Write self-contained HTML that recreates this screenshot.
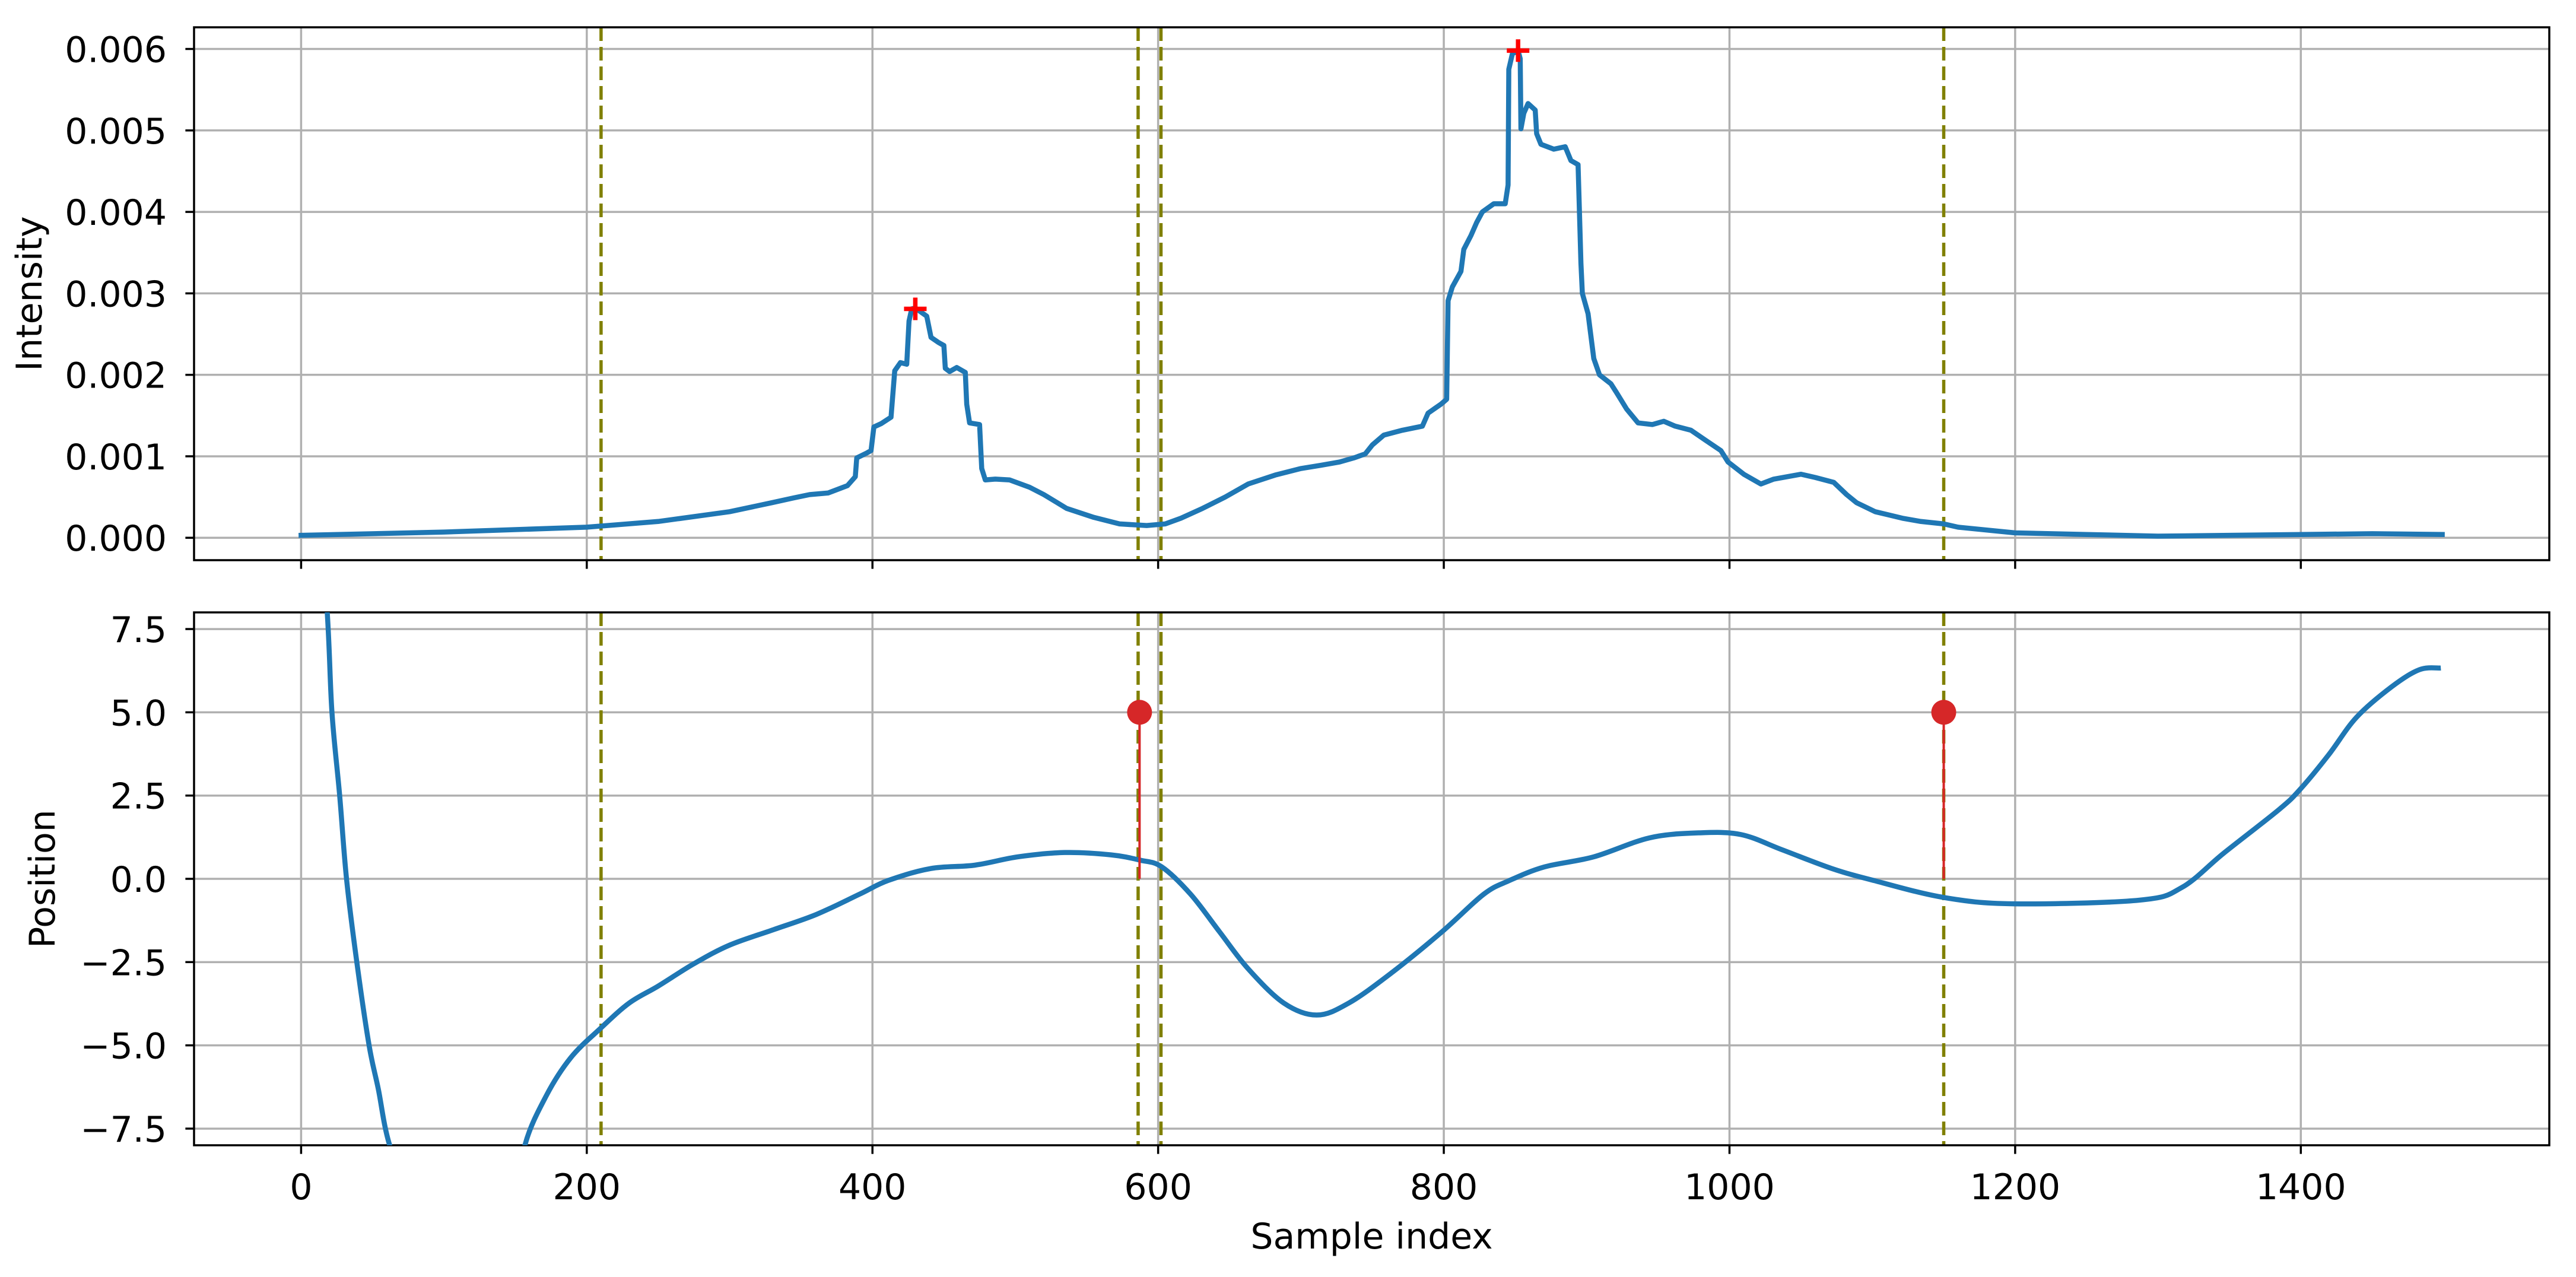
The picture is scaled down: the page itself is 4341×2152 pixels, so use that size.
<!DOCTYPE html>
<html><head><meta charset="utf-8"><style>
html,body{margin:0;padding:0;background:#fff;}
svg{display:block;}
text{font-family:"DejaVu Sans","Liberation Sans",sans-serif;fill:#000;}
</style></head><body>
<svg id="chart" width="4341" height="2152" viewBox="0 0 4341 2152" xmlns="http://www.w3.org/2000/svg">
<rect width="4341" height="2152" fill="#fff"/>
<defs>
<clipPath id="clipTop"><rect x="327" y="46" width="3969" height="898"/></clipPath>
<clipPath id="clipBot"><rect x="327" y="1032" width="3969" height="898"/></clipPath>
</defs>
<g id="top"></g>
<g id="bot"></g>
</svg>
<script>
// ---- data ----
const xTicks = [0, 200, 400, 600, 800, 1000, 1200, 1400];
const topYTicks = [0, 0.001, 0.002, 0.003, 0.004, 0.005, 0.006];
const topYTickLabels = ["0.000","0.001","0.002","0.003","0.004","0.005","0.006"];
const botYTicks = [-7.5, -5, -2.5, 0, 2.5, 5, 7.5];
const botYTickLabels = ["\u22127.5","\u22125.0","\u22122.5","0.0","2.5","5.0","7.5"];
const intensityX = [0,100,200,250,300,329.5,345,356,369,382.5,388,389,396,399,401,406,413,415.6,419.6,424,425.6,427.5,430,434,438,441,446,450,451,454,459,465,466,468,475,476.5,479,486,496,510,520,536,555,573,592,605,616,631,647,663,682,700,714,727,737,745,750,758,771,785,789,798,802,803,806,812,814,819,823,827,835,843,845,845.5,848,852,853.5,854,856,859,864,865,868,877,885,889,894,896,897,901,905,909,917,921,928,936,946,954,962,973,983,994,999,1010,1022,1031,1050,1060,1073,1082,1089,1102,1121,1134,1150,1160,1200,1250,1300,1350,1400,1450,1499];
const intensityY = [0.00003,0.00007,0.00013,0.0002,0.00032,0.00043,0.00049,0.00053,0.00055,0.00064,0.00075,0.00098,0.00104,0.00107,0.00136,0.0014,0.00148,0.00205,0.00215,0.00213,0.00266,0.00281,0.00282,0.00277,0.00272,0.00246,0.0024,0.00236,0.00208,0.00204,0.00209,0.00203,0.00164,0.00141,0.00139,0.00085,0.00071,0.00072,0.00071,0.00062,0.00053,0.00036,0.00025,0.00017,0.00015,0.00017,0.00024,0.00036,0.0005,0.00066,0.00077,0.00085,0.00089,0.00093,0.00098,0.00103,0.00114,0.00126,0.00132,0.00137,0.00153,0.00164,0.0017,0.00291,0.00308,0.00327,0.00354,0.00371,0.00387,0.004,0.0041,0.0041,0.00433,0.00575,0.00594,0.00598,0.00588,0.00502,0.00521,0.00533,0.00525,0.00496,0.00483,0.00477,0.0048,0.00463,0.00458,0.00337,0.003,0.00275,0.0022,0.002,0.00189,0.00178,0.00158,0.00141,0.00139,0.00143,0.00137,0.00132,0.0012,0.00107,0.00093,0.00078,0.00066,0.00072,0.00078,0.00074,0.00068,0.00053,0.00043,0.00032,0.00024,0.0002,0.00017,0.00013,0.00006,0.00004,0.00002,0.00003,0.00004,0.00005,0.00004];
const peakX = [430, 852];
const peakY = [0.00281, 0.00598];
const positionX = [0,10,18.3,21.6,27,31.8,39,47.6,54,62,80,120,150,156.7,171.8,189,209.6,229.7,250,275,300,330.5,360.7,391,411,441,471.6,501.8,534.5,567,587.4,602.5,622.7,642.8,663,688,711,733.5,763.8,799,828,846,870.6,905,944,978.4,1008,1037,1071.6,1101,1150,1199,1287,1316.7,1346,1385,1400,1419.6,1439,1463.7,1483,1498];
const positionY = [20,13,8,5,2.5,0,-2.5,-5,-6.3,-8,-10,-12,-10,-8,-6.5,-5.36,-4.49,-3.73,-3.22,-2.55,-1.99,-1.53,-1.07,-0.46,-0.05,0.31,0.41,0.66,0.79,0.72,0.56,0.36,-0.46,-1.58,-2.7,-3.73,-4.09,-3.73,-2.81,-1.58,-0.46,-0.05,0.36,0.66,1.23,1.38,1.33,0.87,0.31,-0.05,-0.56,-0.75,-0.64,-0.26,0.77,2.09,2.71,3.73,4.85,5.77,6.28,6.33];
const vLines = [210, 586, 602, 1150];
const stemX = [587, 1150];
const stemY = [5, 5];

// ---- axes ----
const L=327, R=4296, XMIN=-74.95, XMAX=1573.95;
const X = u => L + (u - XMIN) / (XMAX - XMIN) * (R - L);
const TT=46, TB=944, TYMIN=-0.000275, TYMAX=0.006266;
const YT = v => TB - (v - TYMIN) / (TYMAX - TYMIN) * (TB - TT);
const BT=1032, BB=1930, BYMIN=-8, BYMAX=8;
const YB = v => BB - (v - BYMIN) / (BYMAX - BYMIN) * (BB - BT);
const NS="http://www.w3.org/2000/svg";
function mk(parent, tag, attrs, txt){
  const e=document.createElementNS(NS,tag);
  for(const k in attrs) e.setAttribute(k, attrs[k]);
  if(txt!==undefined) e.textContent=txt;
  parent.appendChild(e); return e;
}
function smoothPath(pts){
  let d=`M${pts[0][0]},${pts[0][1]}`;
  for(let i=0;i<pts.length-1;i++){
    const p0=pts[Math.max(0,i-1)], p1=pts[i], p2=pts[i+1], p3=pts[Math.min(pts.length-1,i+2)];
    const c1=[p1[0]+(p2[0]-p0[0])/6, p1[1]+(p2[1]-p0[1])/6];
    const c2=[p2[0]-(p3[0]-p1[0])/6, p2[1]-(p3[1]-p1[1])/6];
    d+=` C${c1[0]},${c1[1]} ${c2[0]},${c2[1]} ${p2[0]},${p2[1]}`;
  }
  return d;
}
function panel(g, top, bot, Y, yTicks, yLabels, ylabel, ylabelX, showX){
  xTicks.forEach(t=>{
    const l=mk(g,'line',{x1:X(t),x2:X(t),y1:top,y2:bot,stroke:'#b0b0b0','stroke-width':3.5});
    
    
  });
  yTicks.forEach(t=>{
    const l=mk(g,'line',{x1:L,x2:R,y1:Y(t),y2:Y(t),stroke:'#b0b0b0','stroke-width':3.5});
    
    
  });
  vLines.forEach(v=>{
    const l=mk(g,'line',{x1:X(v),x2:X(v),y1:top,y2:bot,stroke:'#808000','stroke-width':5.5,'stroke-dasharray':'23 10'});
    
    
  });
  const sp=mk(g,'rect',{x:L,y:top,width:R-L,height:bot-top,fill:'none',stroke:'#000','stroke-width':3.5});
  
  
  xTicks.forEach(t=>{
    const tk=mk(g,'line',{x1:X(t),x2:X(t),y1:bot,y2:bot+14.6,stroke:'#000','stroke-width':3.5});
    
    
    if(showX){
      const tl=mk(g,'text',{x:X(t),y:2021,'font-size':60,'text-anchor':'middle'},String(t));
      
      
    }
  });
  yTicks.forEach((t,i)=>{
    const tk=mk(g,'line',{x1:L-14.6,x2:L,y1:Y(t),y2:Y(t),stroke:'#000','stroke-width':3.5});
    
    
    const tl=mk(g,'text',{x:281,y:Y(t)+22,'font-size':60,'text-anchor':'end'},yLabels[i]);
    
    
  });
  const cy=(top+bot)/2;
  const yl=mk(g,'text',{x:ylabelX,y:cy,'font-size':60,'text-anchor':'middle',transform:`rotate(-90 ${ylabelX} ${cy})`},ylabel);
  
  
}
const gt=document.getElementById('top'), gb=document.getElementById('bot');
panel(gt, TT, TB, YT, topYTicks, topYTickLabels, 'Intensity', 70, false);
panel(gb, BT, BB, YB, botYTicks, botYTickLabels, 'Position', 92, true);

const ct=mk(gt,'g',{'clip-path':'url(#clipTop)'});
const p1=mk(ct,'polyline',{points:intensityX.map((u,i)=>X(u)+','+YT(intensityY[i])).join(' '),fill:'none',stroke:'#1f77b4','stroke-width':8.5,'stroke-linejoin':'round','stroke-linecap':'square'});


peakX.forEach((u,i)=>{
  const x=X(u), y=YT(peakY[i]);
  const m=mk(gt,'path',{d:`M${x-19},${y}H${x+19}M${x},${y-19}V${y+19}`,stroke:'#ff0000','stroke-width':7.5,fill:'none'});
  
  
});

const cb=mk(gb,'g',{'clip-path':'url(#clipBot)'});
const p2=mk(cb,'path',{d:smoothPath(positionX.map((u,i)=>[X(u),YB(positionY[i])])),fill:'none',stroke:'#1f77b4','stroke-width':8.5,'stroke-linejoin':'round'});


stemX.forEach((u,i)=>{
  const s=mk(gb,'line',{x1:X(u),x2:X(u),y1:YB(0),y2:YB(stemY[i]),stroke:'#d62728','stroke-width':4});
  
  
  const c=mk(gb,'circle',{cx:X(u),cy:YB(stemY[i]),r:21,fill:'#d62728'});
  
  
});
const xl=mk(gb,'text',{x:(L+R)/2,y:2104,'font-size':60,'text-anchor':'middle'},'Sample index');


</script>
</body></html>
